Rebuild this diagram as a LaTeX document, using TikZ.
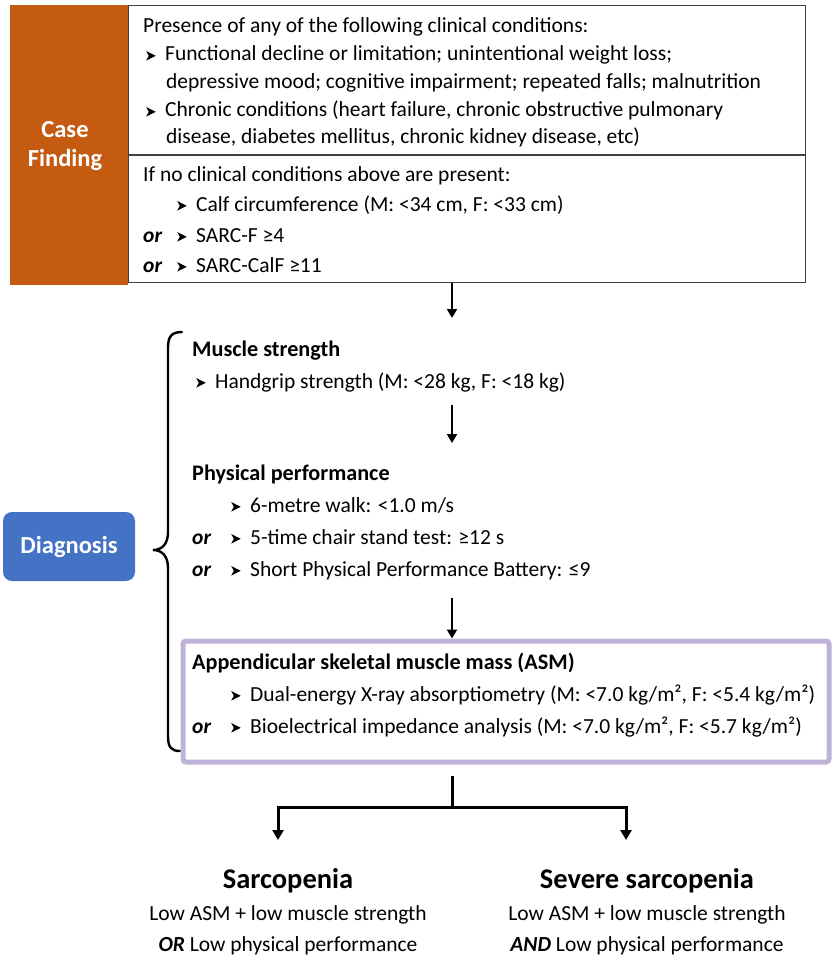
\documentclass[tikz,border=0pt]{standalone}
\usepackage{fontspec}
\setmainfont{Carlito}
\usetikzlibrary{arrows.meta}

\definecolor{caseorange}{RGB}{197,90,17}
\definecolor{diagblue}{RGB}{68,114,196}
\definecolor{asmlilac}{RGB}{190,178,216}
\definecolor{framegray}{RGB}{64,64,64}

% notched arrowhead used as list marker
\newcommand\chevmark{\tikz[baseline=0pt]\fill[black] (0pt,0.4pt)--(9.5pt,5.2pt)--(0pt,10pt)--(2.6pt,5.2pt)--cycle;}
\newcommand\marked[1]{\chevmark\hspace{9.5pt}#1}

\tikzset{
  body/.style={anchor=base west, inner sep=0pt, font=\fontsize{21.5}{26}\selectfont},
  head/.style={body, font=\fontsize{22.2}{26}\selectfont\bfseries},
  orword/.style={body, font=\fontsize{21.5}{26}\selectfont\bfseries\itshape},
  outcome/.style={anchor=base, inner sep=0pt, font=\fontsize{28.5}{32}\selectfont\bfseries},
  outline/.style={anchor=base, inner sep=0pt, font=\fontsize{21.5}{26}\selectfont},
  sidelabel/.style={inner sep=0pt, text=white, align=center, font=\fontsize{24.5}{29}\selectfont\bfseries},
  flow/.style={line width=2pt, -{Triangle[length=9pt,width=10pt]}},
  split/.style={line width=3pt},
  splitarrow/.style={line width=3pt, -{Triangle[length=10pt,width=11pt]}},
}

\begin{document}
\begin{tikzpicture}[x=1pt,y=-1pt]
\useasboundingbox (0,0) rectangle (831,955);

% ---------------- case finding ----------------
\node[fill=caseorange, minimum width=118pt, minimum height=280pt, inner sep=0pt, anchor=north west] (case) at (10,5) {};
\node[sidelabel] (caselbl) at (65,146) {Case\\Finding};

\node[draw=framegray, line width=1.3pt, minimum width=677pt, minimum height=277pt, inner sep=0pt, anchor=north west] (cfbox) at (128,5) {};
\coordinate (divl) at (128,155);
\draw[framegray, line width=1.3pt] (divl) -- (divl -| cfbox.east);

\node[body] (c1) at (143,33) {Presence of any of the following clinical conditions:};
\node[body] (c2) at (146,61) {\marked{Functional decline or limitation; unintentional weight loss;}};
\node[body] (c3) at (166,89) {depressive mood; cognitive impairment; repeated falls; malnutrition};
\node[body] (c4) at (146,117) {\marked{Chronic conditions (heart failure, chronic obstructive pulmonary}};
\node[body] (c5) at (166,143) {disease, diabetes mellitus, chronic kidney disease, etc)};

\node[body] (c6) at (143,181) {If no clinical conditions above are present:};
\node[body] (c7) at (177,211) {\marked{Calf circumference (M: <34 cm, F: <33 cm)}};
\node[orword] (c8or) at (143,242) {or};
\node[body] (c8) at (177,242) {\marked{SARC-F ≥4}};
\node[orword] (c9or) at (143,272) {or};
\node[body] (c9) at (177,272) {\marked{SARC-CalF ≥11}};

% ---------------- diagnosis ----------------
\node[fill=diagblue, rounded corners=9pt, minimum width=132pt, minimum height=69pt, inner sep=0pt] (diag) at (69,546.5) {};
\node[sidelabel] (diaglbl) at (diag.center) {Diagnosis};

\coordinate (brtop) at (182,332);
\coordinate (brtip) at (153,550);
\coordinate (brbot) at (180,751);
\draw[line width=2.4pt, line cap=round]
  (brtop) .. controls (171,332) and (168,337) .. (168,348)
  -- (168,532) .. controls (168,544) and (162,550) .. (brtip)
  .. controls (162,550) and (168,556) .. (168,568)
  -- (168,736) .. controls (168,747) and (171,751) .. (brbot);

\node[head] (ms) at (192,356) {Muscle strength};
\node[body] (ms1) at (196,388) {\marked{Handgrip strength (M: <28 kg, F: <18 kg)}};

\node[head] (pp) at (192,480) {Physical performance};
\node[body] (pp1) at (231,512) {\marked{6-metre walk: <1.0 m/s}};
\node[orword] (pp2or) at (192,544) {or};
\node[body] (pp2) at (231,544) {\marked{5-time chair stand test: ≥12 s}};
\node[orword] (pp3or) at (192,576) {or};
\node[body] (pp3) at (231,576) {\marked{Short Physical Performance Battery: ≤9}};

\node[draw=asmlilac, line width=5pt, rounded corners=3pt, minimum width=646pt, minimum height=121pt, inner sep=0pt, anchor=north west] (asm) at (180.5,638.5) {};
\node[head] (am) at (192,669) {Appendicular skeletal muscle mass (ASM)};
\node[body] (am1) at (231,701) {\marked{Dual-energy X-ray absorptiometry (M: <7.0 kg/m², F: <5.4 kg/m²)}};
\node[orword] (am2or) at (192,733) {or};
\node[body] (am2) at (231,733) {\marked{Bioelectrical impedance analysis (M: <7.0 kg/m², F: <5.7 kg/m²)}};

% ---------------- flow between stages ----------------
\coordinate (spine) at (452,0);
\coordinate (a1end) at (452,318);
\coordinate (a2start) at (452,405);
\coordinate (a2end) at (452,443);
\coordinate (a3start) at (452,598);
\draw[flow] (cfbox.south -| spine) -- (a1end);
\draw[flow] (a2start) -- (a2end);
\draw[flow] (a3start) -- (asm.north -| spine);

% ---------------- outcomes ----------------
\node[outcome] (sar) at (288,888) {Sarcopenia};
\node[outline] (sar1) at (288,920) {Low ASM + low muscle strength};
\node[outline] (sar2) at (288,951) {\textbf{\textit{OR}} Low physical performance};

\node[outcome] (sev) at (647,888) {Severe sarcopenia};
\node[outline] (sev1) at (647,920) {Low ASM + low muscle strength};
\node[outline] (sev2) at (647,951) {\textbf{\textit{AND}} Low physical performance};

\coordinate (fork) at (452,807);
\coordinate (leftend) at (278,840);
\coordinate (rightend) at (626,840);
\draw[split] (asm.south -| spine) ++(0,11) -- (fork);
\draw[splitarrow] (fork) -| (leftend);
\draw[splitarrow] (fork) -| (rightend);
\end{tikzpicture}
\end{document}
